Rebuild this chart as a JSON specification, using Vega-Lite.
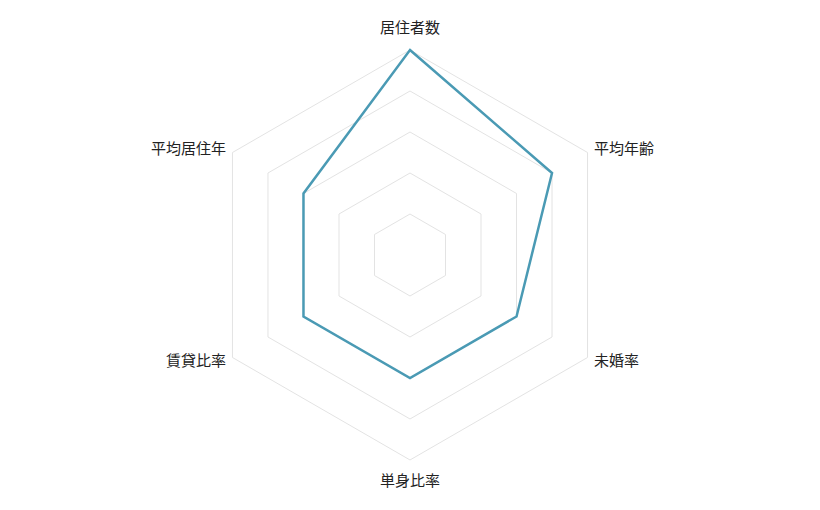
{
  "$schema": "https://vega.github.io/schema/vega-lite/v6.json",
  "width": 820,
  "height": 510,
  "autosize": {"type": "fit", "contains": "padding"},
  "padding": 0,
  "config": {"view": {"stroke": null}},
  "datasets": {
    "axes": [
      {"k": 0, "label": "居住者数", "value": 5},
      {"k": 1, "label": "平均年齢", "value": 4},
      {"k": 2, "label": "未婚率", "value": 3},
      {"k": 3, "label": "単身比率", "value": 3},
      {"k": 4, "label": "賃貸比率", "value": 3},
      {"k": 5, "label": "平均居住年", "value": 3}
    ],
    "grid": [
      {"level": 1, "k": 0}, {"level": 1, "k": 1}, {"level": 1, "k": 2}, {"level": 1, "k": 3}, {"level": 1, "k": 4}, {"level": 1, "k": 5},
      {"level": 2, "k": 0}, {"level": 2, "k": 1}, {"level": 2, "k": 2}, {"level": 2, "k": 3}, {"level": 2, "k": 4}, {"level": 2, "k": 5},
      {"level": 3, "k": 0}, {"level": 3, "k": 1}, {"level": 3, "k": 2}, {"level": 3, "k": 3}, {"level": 3, "k": 4}, {"level": 3, "k": 5},
      {"level": 4, "k": 0}, {"level": 4, "k": 1}, {"level": 4, "k": 2}, {"level": 4, "k": 3}, {"level": 4, "k": 4}, {"level": 4, "k": 5},
      {"level": 5, "k": 0}, {"level": 5, "k": 1}, {"level": 5, "k": 2}, {"level": 5, "k": 3}, {"level": 5, "k": 4}, {"level": 5, "k": 5}
    ]
  },
  "layer": [
    {
      "data": {"name": "grid"},
      "transform": [
        {"calculate": "datum.level * sin(datum.k * PI / 3)", "as": "px"},
        {"calculate": "datum.level * cos(datum.k * PI / 3)", "as": "py"}
      ],
      "mark": {"type": "line", "interpolate": "linear-closed", "stroke": "#e3e3e3", "strokeWidth": 1},
      "encoding": {
        "x": {"field": "px", "type": "quantitative", "scale": {"domain": [-10, 10], "nice": false, "zero": false}, "axis": null},
        "y": {"field": "py", "type": "quantitative", "scale": {"domain": [-6.22, 6.22], "nice": false, "zero": false}, "axis": null},
        "detail": {"field": "level"},
        "order": {"field": "k"}
      }
    },
    {
      "data": {"name": "axes"},
      "transform": [
        {"calculate": "datum.value * sin(datum.k * PI / 3)", "as": "px"},
        {"calculate": "datum.value * cos(datum.k * PI / 3)", "as": "py"}
      ],
      "mark": {"type": "line", "interpolate": "linear-closed", "stroke": "#4a9ab4", "strokeWidth": 2.5},
      "encoding": {
        "x": {"field": "px", "type": "quantitative", "axis": null},
        "y": {"field": "py", "type": "quantitative", "axis": null},
        "order": {"field": "k"}
      }
    },
    {
      "data": {"name": "axes"},
      "transform": [
        {"filter": "datum.k == 0"},
        {"calculate": "5 * sin(datum.k * PI / 3)", "as": "px"},
        {"calculate": "5 * cos(datum.k * PI / 3)", "as": "py"}
      ],
      "mark": {"type": "text", "align": "center", "baseline": "middle", "dy": -22, "font": "Noto Sans CJK JP", "fontSize": 15, "color": "#222"},
      "encoding": {
        "x": {"field": "px", "type": "quantitative", "axis": null},
        "y": {"field": "py", "type": "quantitative", "axis": null},
        "text": {"field": "label"}
      }
    },
    {
      "data": {"name": "axes"},
      "transform": [
        {"filter": "datum.k == 3"},
        {"calculate": "5 * sin(datum.k * PI / 3)", "as": "px"},
        {"calculate": "5 * cos(datum.k * PI / 3)", "as": "py"}
      ],
      "mark": {"type": "text", "align": "center", "baseline": "middle", "dy": 21.5, "font": "Noto Sans CJK JP", "fontSize": 15, "color": "#222"},
      "encoding": {
        "x": {"field": "px", "type": "quantitative", "axis": null},
        "y": {"field": "py", "type": "quantitative", "axis": null},
        "text": {"field": "label"}
      }
    },
    {
      "data": {"name": "axes"},
      "transform": [
        {"filter": "datum.k == 1 || datum.k == 2"},
        {"calculate": "5.18 * sin(datum.k * PI / 3)", "as": "px"},
        {"calculate": "5.18 * cos(datum.k * PI / 3)", "as": "py"}
      ],
      "mark": {"type": "text", "align": "left", "baseline": "middle", "font": "Noto Sans CJK JP", "fontSize": 15, "color": "#222"},
      "encoding": {
        "x": {"field": "px", "type": "quantitative", "axis": null},
        "y": {"field": "py", "type": "quantitative", "axis": null},
        "text": {"field": "label"}
      }
    },
    {
      "data": {"name": "axes"},
      "transform": [
        {"filter": "datum.k == 4 || datum.k == 5"},
        {"calculate": "5.18 * sin(datum.k * PI / 3)", "as": "px"},
        {"calculate": "5.18 * cos(datum.k * PI / 3)", "as": "py"}
      ],
      "mark": {"type": "text", "align": "right", "baseline": "middle", "font": "Noto Sans CJK JP", "fontSize": 15, "color": "#222"},
      "encoding": {
        "x": {"field": "px", "type": "quantitative", "axis": null},
        "y": {"field": "py", "type": "quantitative", "axis": null},
        "text": {"field": "label"}
      }
    }
  ]
}
